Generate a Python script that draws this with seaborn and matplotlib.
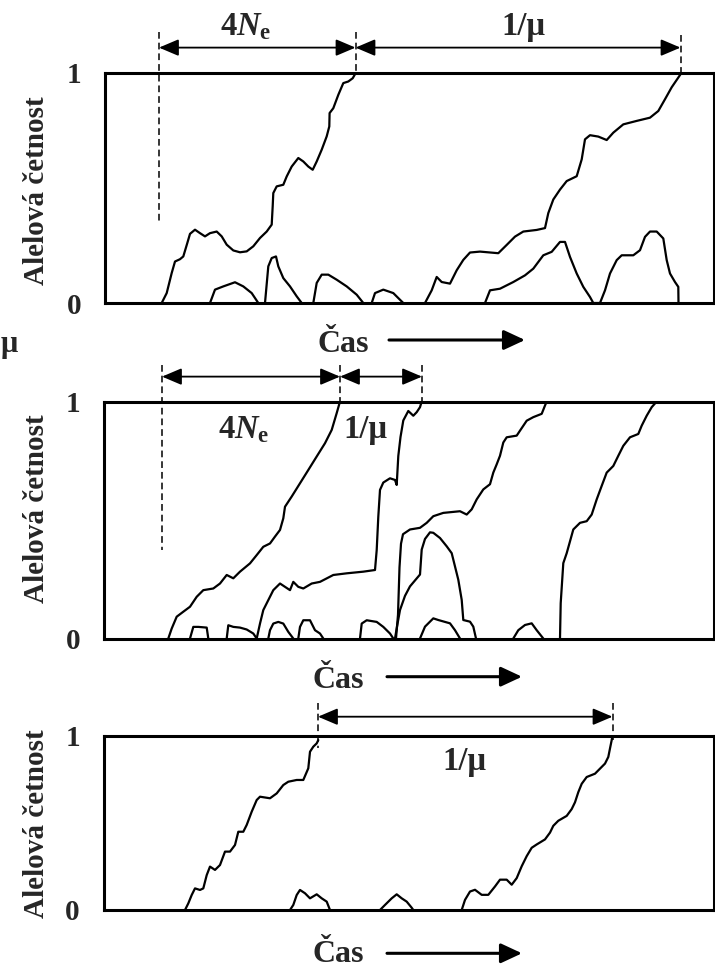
import numpy as np
import pandas as pd
import matplotlib
matplotlib.use("Agg")
import matplotlib.pyplot as plt
import matplotlib.transforms as mtransforms
import seaborn as sns

# ---------------- data (time in arbitrary units, allele frequency 0..1) ----------------
# Panel 1
P1_A_t = [161.7,166.7,171.7,175,180,183.3,187.3,190,195,200,205,210,216.7,221.7,226.7,233.3,240,246.7,253.3,260,
          266.7,271.7,272.7,273.3,276.7,283.3,286.7,291.7,298.3,303.3,308.3,312.7,316.7,321.7,326.7,329.3,329.6,333.3,338.3,343.3,
          348.3,352.7,356]
P1_A_f = [0,0.043,0.13,0.18,0.19,0.202,0.26,0.30,0.318,0.303,0.289,0.303,0.31,0.289,0.253,0.228,0.22,0.224,0.246,0.282,
          0.31,0.34,0.42,0.477,0.506,0.513,0.549,0.592,0.629,0.614,0.592,0.578,0.614,0.665,0.723,0.766,0.824,0.845,0.903,0.954,
          0.961,0.975,1.0]
P1_B1_t = [210,215,223.3,235,243.3,251.7,258.3]
P1_B1_f = [0,0.058,0.072,0.09,0.072,0.043,0]
P1_B2_t = [265,268.3,271.7,276,278.3,283.3,290,296.7,301.7]
P1_B2_f = [0,0.159,0.195,0.202,0.159,0.108,0.072,0.029,0]
P1_B3_t = [313.3,316.7,321.7,328.3,336.7,346.7,356.7,363.3]
P1_B3_f = [0,0.087,0.123,0.123,0.101,0.072,0.036,0]
P1_B4_t = [371.7,375,383.3,393.3,400,403.3]
P1_B4_f = [0,0.043,0.058,0.043,0.014,0]
P1_C_t = [425,431.7,436.7,441.7,450,456.7,463.3,470,480,498.3,506.7,515,523.3,536.7,545,548.3,553.3,560,566.7,576.7,
          581.7,585,590,598.3,606.7,613.3,623.3,636.7,650,658.3,665,671.7,678.3,681.7]
P1_C_f = [0,0.055,0.113,0.091,0.084,0.142,0.187,0.219,0.223,0.216,0.252,0.288,0.31,0.317,0.325,0.39,0.449,0.492,0.529,0.55,
          0.623,0.71,0.728,0.722,0.707,0.739,0.775,0.79,0.804,0.833,0.884,0.936,0.978,1.0]
P1_D_t = [485,490,500,513.3,525,533.3,543.3,551.7,560,565,570,576.7,583.3,590,593.3,600,605,610,616.7,621.7,
          633.3,640,645,650,656.7,663.3,666.7,670,675,678.3,678.5]
P1_D_f = [0,0.055,0.062,0.091,0.12,0.149,0.207,0.222,0.265,0.265,0.2,0.128,0.07,0.026,0,0,0.055,0.128,0.186,0.207,
          0.207,0.229,0.287,0.31,0.31,0.28,0.186,0.128,0.091,0.07,0]

# Panel 2
P2_E_t = [168.3,171.7,176.7,183.3,190,196.7,203.3,213.3,220,226.7,233.3,240,250,256.7,263.3,270,275,280,283.3,285,
          291.7,300,308.3,316.7,325,331.7,336.7,340]
P2_E_f = [0,0.042,0.092,0.113,0.134,0.176,0.204,0.211,0.232,0.268,0.254,0.282,0.317,0.352,0.387,0.401,0.43,0.458,0.507,0.556,
          0.599,0.655,0.711,0.768,0.824,0.88,0.951,1.0]
P2_F_t = [256.7,260,263.3,268.3,273.3,280,285,290,293.3,298.3,303.3,311.7,320,333.3,346.7,363.3,375,376.7,378.3,380,
          383.3,390,395,396.7,398.3,400.5,403.3,408.3,413.3,416.7,420,421.7]
P2_F_f = [0,0.063,0.12,0.162,0.204,0.232,0.218,0.204,0.239,0.218,0.211,0.232,0.239,0.268,0.275,0.282,0.289,0.373,0.514,0.627,
          0.658,0.676,0.669,0.648,0.77,0.85,0.92,0.96,0.94,0.955,0.976,1.0]
P2_G_t = [396,398,399.5,401,403,410,420,426.7,433.3,443.3,460,466.7,471.7,476.7,483.3,490,493.3,496.7,500,503.3,
          506.7,516.7,520,526.7,533.3,541.7,545,546.7]
P2_G_f = [0,0.1,0.3,0.4,0.44,0.46,0.467,0.488,0.516,0.53,0.537,0.523,0.545,0.587,0.629,0.651,0.7,0.735,0.771,0.827,
          0.849,0.856,0.877,0.919,0.934,0.948,0.983,1.0]
P2_H_t = [395,397,400,405,410,414,420,421.7,425,430,433.3,440,446.7,451.7,455,458.3,461.7,463.3,470,473.3,476]
P2_H_f = [0,0.05,0.12,0.18,0.22,0.24,0.27,0.375,0.42,0.448,0.446,0.424,0.389,0.36,0.304,0.248,0.163,0.078,0.071,0.05,0]
P2_I_t = [560,560.7,563.3,566.7,573.3,580,586.7,591.7,596.7,601.7,606.7,613.3,618.3,623.3,630,638.3,641.7,646.7,651.7,656.7]
P2_I_f = [0,0.149,0.318,0.36,0.46,0.488,0.495,0.523,0.587,0.644,0.7,0.728,0.771,0.813,0.849,0.863,0.898,0.94,0.976,1.0]
P2_J1_t = [190,193.3,198.3,206.7,208.3]
P2_J1_f = [0,0.049,0.049,0.046,0]
P2_J2_t = [226.7,228.3,233.3,240,246.7,253.3,256.7]
P2_J2_f = [0,0.056,0.049,0.046,0.038,0.021,0]
P2_J3_t = [268.3,270,273.3,278.3,283.3,288.3,293.3]
P2_J3_f = [0,0.035,0.063,0.07,0.063,0.028,0]
P2_J4_t = [298.3,300,303.3,310,315,320,323.3]
P2_J4_f = [0,0.049,0.077,0.077,0.035,0.021,0]
P2_J5_t = [360,361.7,366.7,376.7,383.3,390,393.3]
P2_J5_f = [0,0.063,0.077,0.07,0.049,0.021,0]
P2_J6_t = [420,425,433.3,438.3,450,455,460]
P2_J6_f = [0,0.05,0.085,0.078,0.064,0.035,0]
P2_J7_t = [513.3,518.3,525,531.7,536.7,543.3]
P2_J7_f = [0,0.035,0.057,0.064,0.035,0]

# Panel 3
P3_K_t = [185,188.3,191.7,195,200,203.3,206.7,210,215,220,225,230,235,238.3,243.3,246.7,251.7,256.7,260,270,
          276.7,283.3,288.3,296.7,303.3,308.3,310,313.3,316.7,318.3]
P3_K_f = [0,0.038,0.086,0.124,0.115,0.124,0.2,0.249,0.23,0.258,0.335,0.335,0.373,0.449,0.449,0.488,0.564,0.631,0.65,0.641,
          0.669,0.717,0.736,0.746,0.746,0.813,0.908,0.937,0.956,0.975]
P3_M1_t = [290,293.3,296.7,300,305,310,316.7,321.7,326.7,330]
P3_M1_f = [0,0.029,0.086,0.115,0.096,0.067,0.09,0.067,0.048,0]
P3_M2_t = [380,385,391.7,396.7,401.7,406.7,411.7,413.3]
P3_M2_f = [0,0.029,0.067,0.09,0.067,0.048,0.013,0]
P3_L_t = [461.7,465,470,475,481.7,488.3,495,500,506.7,511.7,516.7,521.7,526.7,531.7,536.7,545,550,553.3,558.3,566.7,
          571.7,575,578.3,581.7,586.7,595,600,605,608.3,610,611.7,612.3]
P3_L_f = [0,0.058,0.106,0.116,0.087,0.087,0.135,0.174,0.174,0.145,0.183,0.251,0.309,0.357,0.376,0.405,0.444,0.483,0.512,0.54,
          0.579,0.618,0.676,0.724,0.763,0.782,0.811,0.84,0.878,0.927,0.975,0.994]

# annotation time marks (origin / fixation times) and labels
P1_MARKS = [159, 355.5, 680.5]
P2_MARKS = [162, 340, 422]
P3_MARKS = [318, 612.5]
Y_TICKS = [0, 1]
Y_TICKLABELS = ["0", "1"]
Y_LABEL = "Alelová četnost"
X_LABEL = "Čas"
LBL_NE = r"$\mathrm{4}N_{\mathrm{e}}$"
LBL_MU = "1/μ"

series = {
    0: [(P1_A_t, P1_A_f), (P1_B1_t, P1_B1_f), (P1_B2_t, P1_B2_f), (P1_B3_t, P1_B3_f), (P1_B4_t, P1_B4_f),
        (P1_C_t, P1_C_f), (P1_D_t, P1_D_f)],
    1: [(P2_E_t, P2_E_f), (P2_F_t, P2_F_f), (P2_G_t, P2_G_f), (P2_H_t, P2_H_f), (P2_I_t, P2_I_f),
        (P2_J1_t, P2_J1_f), (P2_J2_t, P2_J2_f), (P2_J3_t, P2_J3_f), (P2_J4_t, P2_J4_f), (P2_J5_t, P2_J5_f),
        (P2_J6_t, P2_J6_f), (P2_J7_t, P2_J7_f)],
    2: [(P3_K_t, P3_K_f), (P3_M1_t, P3_M1_f), (P3_M2_t, P3_M2_f), (P3_L_t, P3_L_f)],
}
rows = []
for p, lst in series.items():
    for k, (t, f) in enumerate(lst):
        for ti, fi in zip(t, f):
            rows.append((p, f"{p}_{k}", ti, fi))
df = pd.DataFrame(rows, columns=["panel", "curve", "time", "freq"])

# ---------------- style ----------------
sns.set_style("white")
plt.rcParams["font.family"] = ["Liberation Serif", "DejaVu Serif"]
plt.rcParams["font.weight"] = "bold"
plt.rcParams["mathtext.fontset"] = "custom"
plt.rcParams["mathtext.rm"] = "Liberation Serif:bold"
plt.rcParams["mathtext.it"] = "Liberation Serif:italic:bold"
plt.rcParams["mathtext.bf"] = "Liberation Serif:bold"

W, H = 715, 968
fig = plt.figure(figsize=(W / 100, H / 100), dpi=100)
pix = mtransforms.Affine2D().scale(1 / W, -1 / H).translate(0, 1) + fig.transFigure

RIGHT = 714.3
boxes = [(105, 72.5, 303), (104, 401.5, 638.5), (103.5, 735.7, 910)]
ylab_c = [191, 509, 824]
xlab = [(343, 352.5), (338, 687.5), (338, 962.5)]
arrows = [(389, 525, 340), (387, 522, 676.7), (387, 522, 953.3)]
marks = [P1_MARKS, P2_MARKS, P3_MARKS]
dim_y = [1.108, 1.105, 1.109]
dash_span = [[(1.177, 0.353), (1.177, 1.0), (1.163, 1.0)],
             [(1.155, 0.373), (1.155, 1.0), (1.155, 1.0)],
             [(1.186, 0.927), (1.186, 0.975)]]
labels = [[(LBL_NE, 246, 1.163), (LBL_MU, 523, 1.163)],
          [(LBL_NE, 244, 0.845), (LBL_MU, 365, 0.845)],
          [(LBL_MU, 464, 0.803)]]

for i, (l, t, b) in enumerate(boxes):
    ax = fig.add_axes([l / W, 1 - b / H, (RIGHT - l) / W, (b - t) / H])
    sub = df[df.panel == i]
    sns.lineplot(data=sub, x="time", y="freq", units="curve", estimator=None, sort=False,
                 color="black", linewidth=1.6, ax=ax, legend=False)
    ax.set_xlim(l, RIGHT)
    ax.set_ylim(0, 1)
    ax.set_xticks([])
    ax.set_yticks(Y_TICKS)
    ax.set_yticklabels(Y_TICKLABELS)
    ax.tick_params(axis="y", length=0, pad=17, labelsize=21)
    for sp in ax.spines.values():
        sp.set_visible(True)
        sp.set_linewidth(2.2)
        sp.set_color("black")
    # axis labels
    ax.set_ylabel(Y_LABEL, fontsize=21, fontweight="bold")
    ax.yaxis.label.set_va("center")
    ax.yaxis.set_label_coords((36.5 - l) / (RIGHT - l), (b - ylab_c[i]) / (b - t))
    ax.set_xlabel(X_LABEL, fontsize=23, fontweight="bold")
    ax.xaxis.label.set_va("baseline")
    ax.xaxis.set_label_coords((xlab[i][0] - l) / (RIGHT - l), (b - xlab[i][1]) / (b - t))
    # time arrow
    x1, x2, ya = arrows[i]
    ax.annotate("", xy=(x2, ya), xytext=(x1, ya), xycoords=pix, textcoords=pix,
                arrowprops=dict(arrowstyle="-|>,head_length=0.43,head_width=0.2", mutation_scale=30,
                                lw=2.2, color="black", shrinkA=0, shrinkB=0),
                annotation_clip=False)
    # dashed markers and dimension arrows
    tr = ax.get_xaxis_transform()
    for xm, (y0, y1) in zip(marks[i], dash_span[i]):
        ax.plot([xm, xm], [y0, y1], transform=tr, color="black", lw=1.1,
                ls=(0, (4.4, 2.6)), clip_on=False)
    for xa, xb in zip(marks[i][:-1], marks[i][1:]):
        ax.annotate("", xy=(xb, dim_y[i]), xytext=(xa, dim_y[i]), xycoords=tr, textcoords=tr,
                    arrowprops=dict(arrowstyle="<|-|>,head_length=0.4,head_width=0.17", mutation_scale=30,
                                    lw=1.3, color="black", shrinkA=0, shrinkB=0),
                    annotation_clip=False)
    for txt, xc, yb in labels[i]:
        ax.text(xc, yb, txt, transform=tr, ha="center", va="baseline", fontsize=23.5,
                fontweight="bold", clip_on=False)

# label remnant at the left edge
fig.text(0.5 / W, 1 - 352 / H, "μ", ha="left", va="baseline", fontsize=22, fontweight="bold")

fig.savefig("out.png", dpi=100)
